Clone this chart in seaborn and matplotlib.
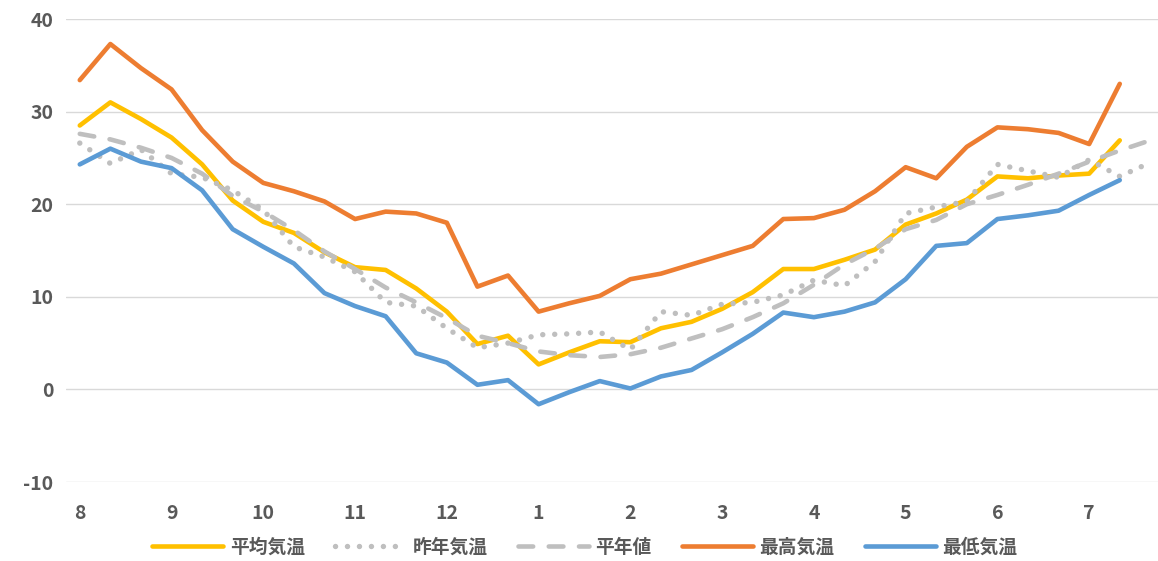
import numpy as np
import pandas as pd
import matplotlib
matplotlib.use("Agg")
import matplotlib.pyplot as plt
import seaborn as sns

# 旬ごとの気温 (8月上旬 .. 7月下旬)
month_labels = ["8", "9", "10", "11", "12", "1", "2", "3", "4", "5", "6", "7"]

heikin = [28.5, 31.0, 29.2, 27.2, 24.3, 20.4, 18.1, 16.9, 14.8, 13.2, 12.9, 10.9,
          8.4, 4.9, 5.8, 2.7, 4.0, 5.2, 5.1, 6.6, 7.3, 8.7, 10.5, 13.0,
          13.0, 14.0, 15.1, 17.8, 19.0, 20.5, 23.0, 22.8, 23.1, 23.3, 26.9]

sakunen = [26.6, 24.4, 25.9, 23.3, 22.9, 21.5, 19.4, 15.4, 14.3, 12.7, 9.4, 9.0,
           6.6, 4.5, 5.0, 5.9, 6.0, 6.2, 4.3, 8.4, 8.0, 9.2, 9.4, 10.2,
           11.8, 11.2, 13.8, 19.0, 19.7, 20.3, 24.3, 23.6, 22.9, 24.8, 23.0, 24.5]

heinen = [27.6, 27.0, 26.1, 25.0, 23.3, 20.9, 19.2, 17.2, 14.9, 13.0, 11.0, 9.4,
          7.7, 5.8, 5.0, 4.1, 3.7, 3.5, 3.8, 4.5, 5.5, 6.5, 7.8, 9.3,
          11.3, 13.5, 15.2, 17.3, 18.3, 20.0, 21.0, 22.1, 23.3, 24.6, 25.8, 26.9]

saikou = [33.4, 37.3, 34.7, 32.4, 28.0, 24.6, 22.3, 21.4, 20.3, 18.4, 19.2, 19.0,
          18.0, 11.1, 12.3, 8.4, 9.3, 10.1, 11.9, 12.5, 13.5, 14.5, 15.5, 18.4,
          18.5, 19.4, 21.4, 24.0, 22.8, 26.2, 28.3, 28.1, 27.7, 26.5, 33.0]

saitei = [24.3, 26.0, 24.6, 23.9, 21.5, 17.3, 15.4, 13.6, 10.4, 9.0, 7.9, 3.9,
          2.9, 0.5, 1.0, -1.6, -0.3, 0.9, 0.1, 1.4, 2.1, 4.0, 6.0, 8.3,
          7.8, 8.4, 9.4, 11.9, 15.5, 15.8, 18.4, 18.8, 19.3, 21.0, 22.6]

series = [
    ("平均気温", heikin, "#FFC000", "-", 3.3),
    ("昨年気温", sakunen, "#BFBFBF", (0, (0.01, 2.2)), 3.9),
    ("平年値", heinen, "#BFBFBF", (0, (3.2, 3.4)), 3.3),
    ("最高気温", saikou, "#ED7D31", "-", 3.3),
    ("最低気温", saitei, "#5B9BD5", "-", 3.3),
]

sns.set_style("white")
plt.rcParams["font.family"] = ["Noto Sans CJK JP", "DejaVu Sans"]
plt.rcParams["axes.unicode_minus"] = False

fig = plt.figure(figsize=(11.58, 5.61), dpi=100)
ax = fig.add_axes([0.057, 0.1408, 0.943, 0.8253])

for name, vals, color, ls, lw in series:
    sns.lineplot(ax=ax, x=np.arange(len(vals)), y=vals, color=color,
                 linewidth=lw, label=name, linestyle=ls,
                 dash_capstyle="round", solid_capstyle="round",
                 solid_joinstyle="round")

ax.set_ylim(-10, 40)
ax.set_yticks(range(-10, 41, 10))
ax.set_xlim(-0.45, 35.25)
ax.set_xticks(np.arange(0, 36, 3))
ax.set_xticklabels(month_labels)
ax.set_xlabel("")
ax.set_ylabel("")
ax.yaxis.grid(True, color="#D9D9D9", linewidth=1.0)
ax.xaxis.grid(False)
ax.set_axisbelow(True)
for s in ax.spines.values():
    s.set_visible(False)
ax.tick_params(axis="both", length=0, labelsize=14, labelcolor="#595959")
ax.tick_params(axis="x", pad=16)
ax.tick_params(axis="y", pad=9)
for lab in ax.get_xticklabels() + ax.get_yticklabels():
    lab.set_fontweight("bold")

handles, labels = ax.get_legend_handles_labels()
ax.get_legend().remove()
fig.legend(handles, labels, loc="center", bbox_to_anchor=(0.505, 0.024),
           ncol=5, frameon=False, handlelength=3.8, handletextpad=0.35,
           columnspacing=1.6, prop={"size": 13.5, "weight": "bold"},
           labelcolor="#595959")

fig.savefig("out.png", dpi=100)
